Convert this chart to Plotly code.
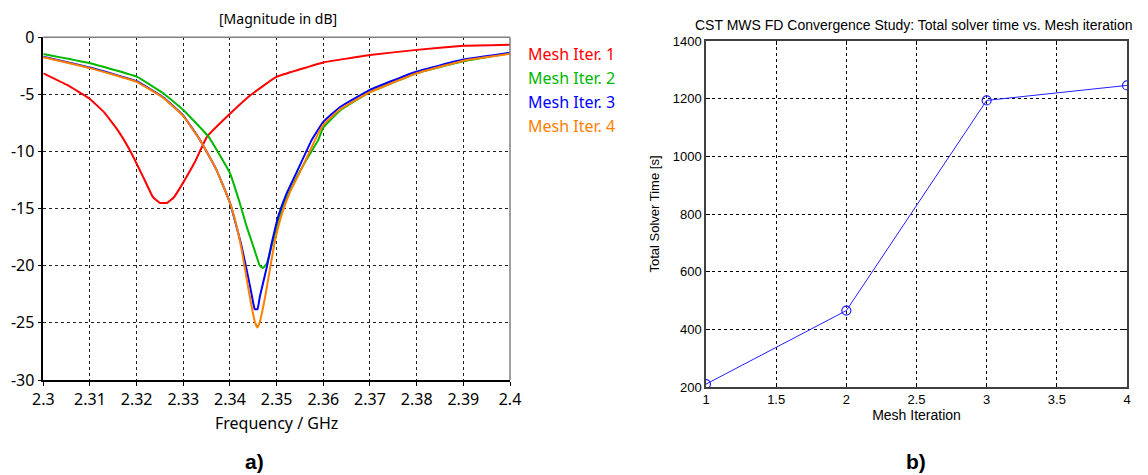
import plotly.graph_objects as go

# ---- Left panel data: |S11| in dB per mesh iteration ----
f_iter1 = [2.300, 2.3051, 2.3098, 2.3130, 2.3159, 2.3187, 2.3216, 2.3235, 2.3250, 2.3265, 2.328, 2.330, 2.3325,
           2.3351, 2.340, 2.3443, 2.350, 2.355, 2.360, 2.370, 2.380, 2.390, 2.400]
s_iter1 = [-3.15, -4.17, -5.34, -6.55, -8.1, -10.0, -12.4, -14.0, -14.5, -14.5, -14.0, -12.7, -10.9,
           -8.7, -6.7, -5.1, -3.45, -2.8, -2.2, -1.55, -1.1, -0.75, -0.65]

f_iter2 = [2.300, 2.310, 2.320, 2.3257, 2.330, 2.3354, 2.340, 2.3421, 2.3436, 2.345, 2.3464, 2.3471,
           2.3479, 2.3489, 2.350, 2.3514, 2.3536, 2.3564, 2.3589, 2.360, 2.3636, 2.370, 2.380, 2.390, 2.400]
s_iter2 = [-1.46, -2.27, -3.44, -4.9, -6.36, -8.7, -11.9, -14.5, -16.6, -18.3, -20.0, -20.2,
           -19.8, -18.3, -16.6, -14.8, -12.8, -10.7, -9.0, -7.9, -6.4, -4.8, -3.15, -2.1, -1.4]

f_iter3 = [2.300, 2.310, 2.320, 2.3257, 2.330, 2.3336, 2.3371, 2.340, 2.3425, 2.3443, 2.345, 2.3453,
           2.3459, 2.3464, 2.3479, 2.3489, 2.3504, 2.3521, 2.3543, 2.3575, 2.360, 2.3636, 2.370,
           2.380, 2.390, 2.400]
s_iter3 = [-1.7, -2.65, -3.85, -5.25, -6.85, -9.0, -11.6, -14.5, -18.3, -21.8, -23.3, -23.8,
           -23.8, -22.7, -20.1, -18.1, -15.6, -13.7, -11.8, -9.0, -7.4, -6.1, -4.6,
           -3.0, -1.95, -1.35]

f_iter4 = [2.300, 2.310, 2.320, 2.3257, 2.330, 2.3336, 2.3371, 2.340, 2.3414, 2.3425, 2.3436, 2.3446,
           2.3454, 2.3459, 2.3464, 2.3475, 2.3486, 2.3496, 2.3511, 2.3529, 2.355, 2.3582, 2.360,
           2.3636, 2.370, 2.380, 2.390, 2.400]
s_iter4 = [-1.75, -2.7, -3.9, -5.3, -6.9, -9.0, -11.6, -14.5, -16.5, -18.6, -21.2, -23.5,
           -25.0, -25.4, -24.9, -22.8, -20.2, -17.9, -15.5, -13.5, -11.8, -9.0, -7.65,
           -6.3, -4.8, -3.15, -2.05, -1.45]

series_names = ["Mesh Iter. 1", "Mesh Iter. 2", "Mesh Iter. 3", "Mesh Iter. 4"]
series_colors = ["#ff0000", "#00b800", "#0000ff", "#ff8000"]

freq_ticks = [2.30, 2.31, 2.32, 2.33, 2.34, 2.35, 2.36, 2.37, 2.38, 2.39, 2.40]
freq_tick_text = ["2.3", "2.31", "2.32", "2.33", "2.34", "2.35", "2.36", "2.37", "2.38", "2.39", "2.4"]
db_ticks = [0, -5, -10, -15, -20, -25, -30]
db_tick_text = ["0", "-5", "-10", "-15", "-20", "-25", "-30"]

# ---- Right panel data: total solver time ----
mesh_iter = [1, 2, 3, 4]
solver_time = [210, 465, 1194, 1246]
iter_ticks = [1, 1.5, 2, 2.5, 3, 3.5, 4]
time_ticks = [200, 400, 600, 800, 1000, 1200, 1400]

LFONT = "Noto Sans"
RFONT = "Liberation Sans"

# page body has an 8px margin: figure drawn at (8, 8)
OFF = 8
W, H = 1148 - OFF, 475 - OFF


def px(x):
    return (x - OFF) / W


def py(y):
    return 1 - (y - OFF) / H


fig = go.Figure()

left_f = [f_iter1, f_iter2, f_iter3, f_iter4]
left_s = [s_iter1, s_iter2, s_iter3, s_iter4]
for fx, sy, nm, col in zip(left_f, left_s, series_names, series_colors):
    fig.add_trace(go.Scatter(x=fx, y=sy, mode="lines", name=nm,
                             line=dict(color=col, width=2, shape="spline", smoothing=0.3),
                             xaxis="x", yaxis="y", showlegend=False))

fig.add_trace(go.Scatter(x=mesh_iter, y=solver_time, mode="lines+markers",
                         line=dict(color="#2020ff", width=1),
                         marker=dict(symbol="circle-open", size=9, color="#2020ff", line=dict(width=1.2)),
                         xaxis="x2", yaxis="y2", showlegend=False))

L_X0, L_X1 = px(43.3), px(510)
L_Y0, L_Y1 = py(380), py(37.3)
R_X0, R_X1 = px(706), px(1127)
R_Y0, R_Y1 = py(387), py(41)

fig.update_layout(
    width=W, height=H,
    margin=dict(l=0, r=0, t=0, b=0, autoexpand=False),
    paper_bgcolor="white", plot_bgcolor="white",
    xaxis=dict(domain=[L_X0, L_X1], range=[2.3, 2.4], tickvals=freq_ticks, ticktext=freq_tick_text,
               automargin=False,
               showgrid=True, gridcolor="#202020", griddash="3px,3px", gridwidth=1,
               showline=True, linecolor="black", linewidth=1.5, ticks="outside", ticklen=4,
               tickcolor="black", zeroline=False,
               tickfont=dict(family=LFONT, size=16, color="black"),
               title=dict(text="Frequency / GHz", font=dict(family=LFONT, size=16, color="black"), standoff=9)),
    yaxis=dict(domain=[L_Y0, L_Y1], range=[-30, 0], tickvals=db_ticks, ticktext=db_tick_text,
               automargin=False,
               showgrid=True, gridcolor="#202020", griddash="3px,3px", gridwidth=1,
               showline=True, linecolor="black", linewidth=1.5, ticks="outside", ticklen=4,
               tickcolor="black", zeroline=False,
               tickfont=dict(family=LFONT, size=16, color="black")),
    xaxis2=dict(domain=[R_X0, R_X1], range=[1, 4], tickvals=iter_ticks, anchor="y2", automargin=False,
                showgrid=True, gridcolor="black", griddash="3px,3px", gridwidth=1,
                showline=True, linecolor="#404040", linewidth=1.5, mirror="ticks",
                ticks="inside", ticklen=4, tickcolor="black", zeroline=False,
                tickfont=dict(family=RFONT, size=13, color="black"),
                title=dict(text="Mesh Iteration", font=dict(family=RFONT, size=14, color="black"), standoff=4)),
    yaxis2=dict(domain=[R_Y0, R_Y1], range=[200, 1400], tickvals=time_ticks, anchor="x2", automargin=False,
                showgrid=True, gridcolor="black", griddash="3px,3px", gridwidth=1,
                showline=True, linecolor="#404040", linewidth=1.5, mirror="ticks",
                ticks="inside", ticklen=4, tickcolor="black", zeroline=False,
                tickfont=dict(family=RFONT, size=13, color="black"),
                title=dict(text="Total Solver Time [s]", font=dict(family=RFONT, size=13, color="black"), standoff=10)),
)

# Gray top and right border of the left panel
fig.add_shape(type="line", xref="x domain", yref="y domain", x0=0, x1=1, y0=1, y1=1,
              line=dict(color="#808080", width=1.5))
fig.add_shape(type="line", xref="x domain", yref="y domain", x0=1, x1=1, y0=0, y1=1,
              line=dict(color="#808080", width=1.5))


def label(text, x, y, size, color="black", family=LFONT, xanchor="center"):
    fig.add_annotation(text=text, xref="paper", yref="paper", x=px(x), y=py(y),
                       xanchor=xanchor, yanchor="middle", showarrow=False,
                       font=dict(family=family, size=size, color=color))


# Left title
label("[Magnitude in dB]", 278, 18, 14)
# Legend as coloured text
for i, (nm, col) in enumerate(zip(series_names, series_colors)):
    label(nm, 526, 54 + i * 24, 16, color=col, xanchor="left")
# Right title
label("CST MWS FD Convergence Study: Total solver time vs. Mesh iteration", 914, 25, 14, family=RFONT)
# Panel labels
label("<b>a)</b>", 254, 461, 21, family=RFONT)
label("<b>b)</b>", 916, 461, 21, family=RFONT)

fig.write_html("out.html")
